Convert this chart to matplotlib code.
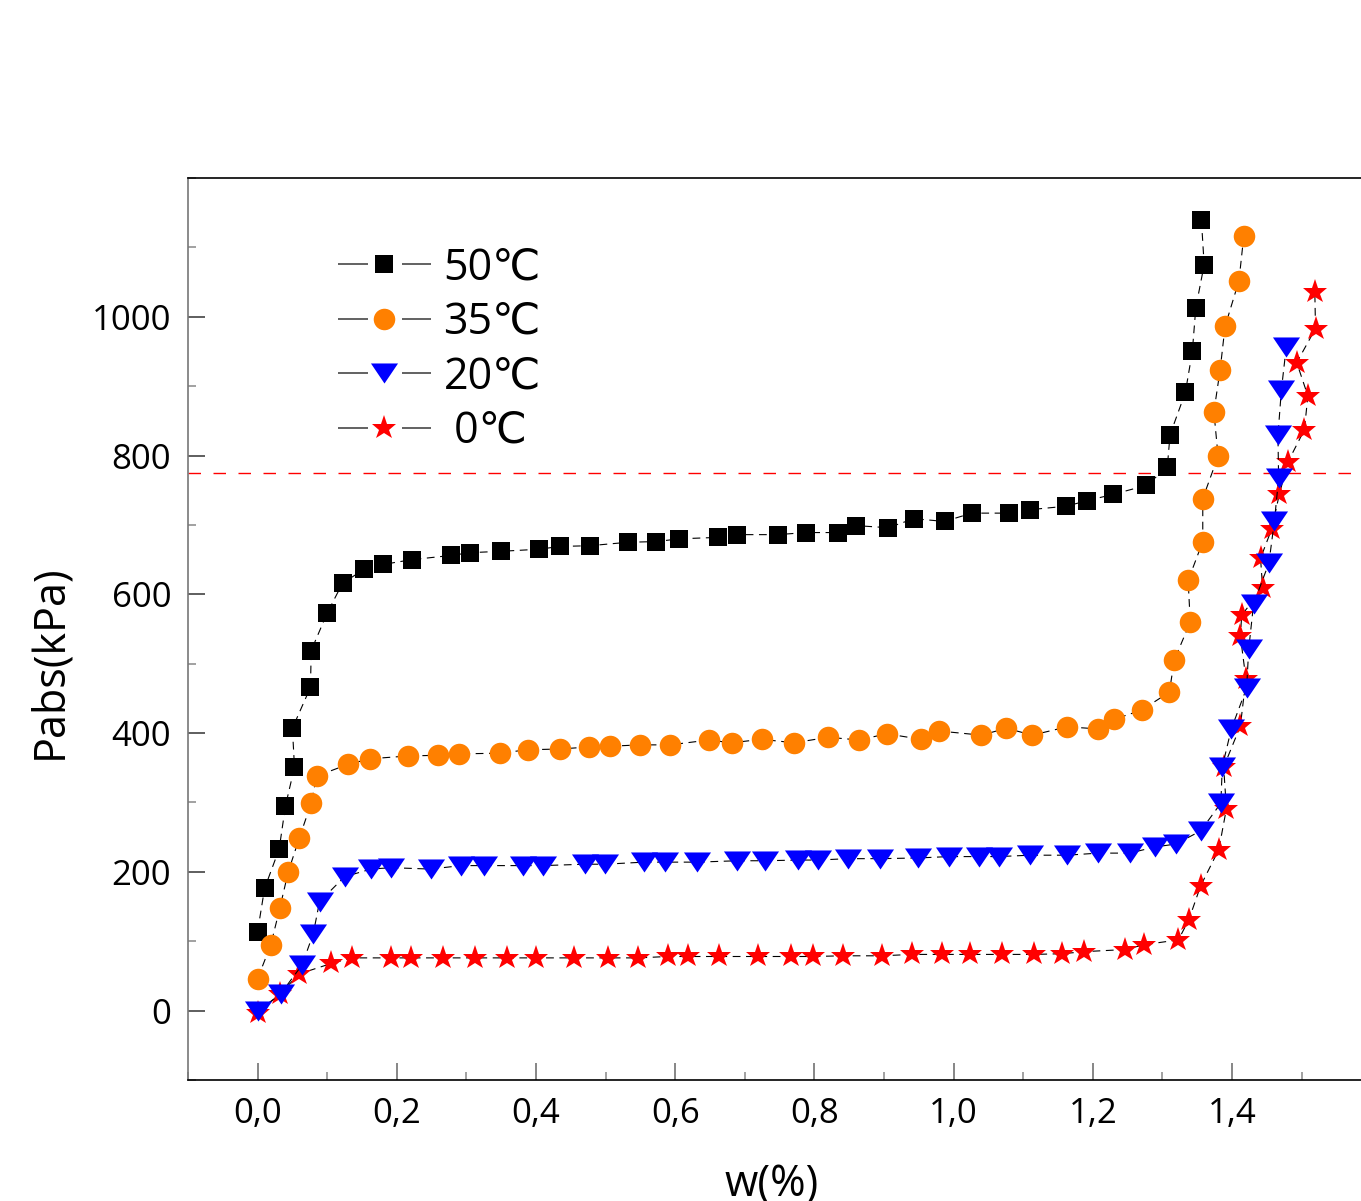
import matplotlib
matplotlib.use('Agg')
import matplotlib.pyplot as plt
from matplotlib.lines import Line2D
from matplotlib.ticker import MultipleLocator

plt.rcParams['font.family'] = ['Open Sans', 'DejaVu Sans']

# ---------------- data ----------------
labels = ['50℃', '35℃', '20℃', ' 0℃']
colors = ['#000000', '#FF8000', '#0000FF', '#FF0000']

w50 = [0.000, 0.010, 0.031, 0.040, 0.053, 0.050, 0.076, 0.077, 0.100, 0.122,
       0.153, 0.180, 0.222, 0.278, 0.305, 0.350, 0.405, 0.434, 0.477, 0.532,
       0.573, 0.606, 0.661, 0.689, 0.747, 0.788, 0.834, 0.860, 0.906, 0.943,
       0.987, 1.026, 1.080, 1.110, 1.162, 1.192, 1.229, 1.277, 1.307, 1.311,
       1.333, 1.343, 1.348, 1.360, 1.356]
p50 = [114, 176, 233, 295, 351, 407, 466, 519, 573, 616,
       636, 643, 650, 656, 660, 662, 665, 669, 670, 675,
       676, 680, 682, 686, 686, 689, 689, 699, 696, 709,
       705, 717, 717, 722, 727, 735, 744, 757, 783, 830,
       891, 950, 1013, 1075, 1140]

w35 = [0.000, 0.019, 0.032, 0.044, 0.060, 0.077, 0.085, 0.130, 0.162, 0.216,
       0.259, 0.289, 0.348, 0.388, 0.434, 0.476, 0.506, 0.549, 0.593, 0.648,
       0.681, 0.724, 0.771, 0.820, 0.864, 0.904, 0.953, 0.979, 1.040, 1.076,
       1.113, 1.163, 1.208, 1.231, 1.270, 1.310, 1.317, 1.340, 1.337, 1.358,
       1.358, 1.380, 1.374, 1.383, 1.390, 1.410, 1.417]
p35 = [46, 95, 148, 200, 249, 299, 338, 355, 363, 367,
       368, 370, 371, 376, 377, 380, 381, 383, 383, 390,
       386, 391, 386, 394, 390, 399, 391, 403, 397, 407,
       397, 409, 406, 420, 433, 459, 505, 560, 620, 676,
       738, 799, 863, 924, 986, 1052, 1117]

w20 = [0.000, 0.033, 0.064, 0.080, 0.089, 0.125, 0.163, 0.192, 0.249, 0.292,
       0.325, 0.381, 0.410, 0.470, 0.499, 0.555, 0.586, 0.632, 0.689, 0.729,
       0.777, 0.805, 0.848, 0.894, 0.949, 0.993, 1.037, 1.065, 1.110, 1.163,
       1.208, 1.253, 1.290, 1.319, 1.355, 1.384, 1.386, 1.399, 1.421, 1.424,
       1.431, 1.453, 1.461, 1.467, 1.466, 1.471, 1.478]
p20 = [-1, 24, 66, 111, 157, 193, 204, 206, 204, 209,
       209, 209, 209, 211, 211, 214, 214, 214, 216, 216,
       217, 217, 219, 219, 220, 222, 222, 222, 224, 224,
       227, 227, 236, 240, 259, 299, 351, 406, 465, 521,
       586, 645, 706, 767, 829, 895, 957]

w0 = [0.000, 0.032, 0.060, 0.106, 0.135, 0.191, 0.221, 0.267, 0.312, 0.358,
      0.400, 0.454, 0.503, 0.547, 0.589, 0.619, 0.663, 0.719, 0.767, 0.798,
      0.841, 0.897, 0.940, 0.983, 1.024, 1.069, 1.115, 1.156, 1.188, 1.246,
      1.274, 1.323, 1.338, 1.355, 1.381, 1.392, 1.388, 1.412, 1.420, 1.412,
      1.414, 1.444, 1.441, 1.457, 1.468, 1.480, 1.504, 1.509, 1.493, 1.520,
      1.519]
p0 = [-4, 24, 53, 68, 76, 76, 76, 76, 76, 76,
      76, 76, 76, 76, 78, 78, 78, 78, 78, 78,
      79, 79, 81, 81, 81, 81, 81, 82, 85, 88,
      95, 102, 131, 180, 232, 291, 351, 410, 478, 540,
      570, 609, 652, 694, 744, 790, 837, 886, 934, 983,
      1035]

ref_level = 775

xticks = [0.0, 0.2, 0.4, 0.6, 0.8, 1.0, 1.2, 1.4]
xticklabels = ['0,0', '0,2', '0,4', '0,6', '0,8', '1,0', '1,2', '1,4']
yticks = [0, 200, 400, 600, 800, 1000]
yticklabels = ['0', '200', '400', '600', '800', '1000']

# ---------------- figure ----------------
W, H = 1361, 1201
fig = plt.figure(figsize=(W / 100, H / 100), dpi=100)
ax = fig.add_axes([188 / W, 1 - 1080 / H, 1.7 * 696 / W, 902 / H])
ax.set_xlim(-0.1, 1.6)
ax.set_ylim(-100, 1200)

tri = [(-0.675, 0.5), (0.675, 0.5), (0.0, -0.5)]
markers = ['s', 'o', tri, '*']
msizes = [13.5, 15.5, 19.5, 18.5]

series = [(w50, p50), (w35, p35), (w20, p20), (w0, p0)]
zorders = [3, 4, 6, 5]

ax.axhline(ref_level, color='#FF0000', lw=1.0, dashes=(9, 9), zorder=2)

for (x, y), col, mk, ms, zo in zip(series, colors, markers, msizes, zorders):
    ax.plot(x, y, color='#000000', lw=0.8, dashes=(7, 5), zorder=zo - 0.5)
    ax.plot(x, y, ls='none', marker=mk, ms=ms, mfc=col, mec=col, mew=0,
            zorder=zo)

# spines
ax.spines['right'].set_visible(False)
ax.spines['top'].set_color('#000000')
ax.spines['top'].set_linewidth(1.2)
ax.spines['bottom'].set_color('#000000')
ax.spines['bottom'].set_linewidth(1.2)
ax.spines['left'].set_color('#777777')
ax.spines['left'].set_linewidth(1.2)

ax.set_xticks(xticks, labels=xticklabels)
ax.set_yticks(yticks, labels=yticklabels)
ax.xaxis.set_minor_locator(MultipleLocator(0.1))
ax.yaxis.set_minor_locator(MultipleLocator(100))

ax.tick_params(axis='both', which='both', direction='in', top=False, right=False)
ax.tick_params(axis='x', which='major', length=12, width=1.1, color='#666666',
               labelsize=25, pad=12)
ax.tick_params(axis='x', which='minor', length=6, width=1.1, color='#888888')
ax.tick_params(axis='y', which='major', length=12, width=1.1, color='#333333',
               labelsize=25, pad=12)
ax.tick_params(axis='y', which='minor', length=6, width=1.1, color='#888888')

ax.set_xlabel('w(%)', fontsize=31)
ax.xaxis.label.set_va('center')
ax.xaxis.set_label_coords((772 - 188) / (1.7 * 696), (1080 - 1185) / 902)
ax.set_ylabel('Pabs(kPa)', fontsize=31)
ax.yaxis.label.set_va('center')
ax.yaxis.set_label_coords((50 - 188) / (1.7 * 696), (1080 - 662) / 902)

# legend handles: grey line with a gap around the marker
lw_leg = 1.3
dash_on = 30 * 0.72 / lw_leg
dash_off = 34 * 0.72 / lw_leg
handles = [Line2D([], [], color='#555555', lw=lw_leg, dashes=(dash_on, dash_off),
                  marker=mk, ms=ms, mfc=col, mec=col, mew=0)
           for col, mk, ms in zip(colors, markers, msizes)]
ax.legend(handles, labels, loc='upper left', frameon=False, fontsize=31,
          bbox_to_anchor=(338 / W, 1 - 246 / H), bbox_transform=fig.transFigure,
          borderpad=0, borderaxespad=0, handlelength=2.15, handletextpad=0.3,
          labelspacing=0.23, numpoints=1)

fig.savefig('out.png', dpi=100)
